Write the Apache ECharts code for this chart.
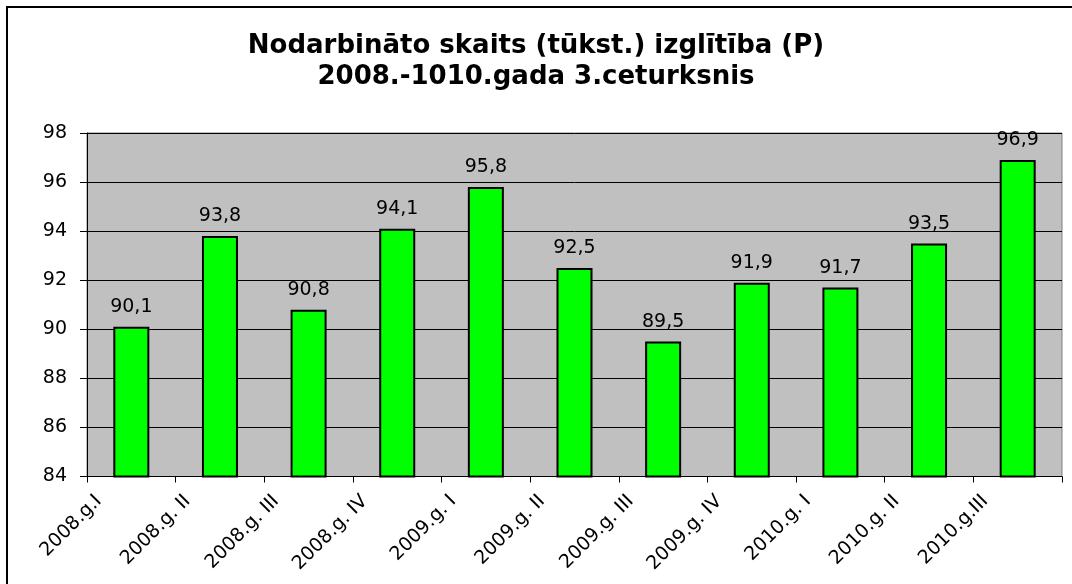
<!DOCTYPE html>
<html>
<head>
<meta charset="utf-8">
<script src="https://cdn.jsdelivr.net/npm/echarts@6/dist/echarts.min.js"></script>
<style>
  html, body { margin: 0; padding: 0; background: #fff; }
  #chart { width: 1072px; height: 584px; }
</style>
</head>
<body>
<div id="chart"></div>
<script>
  const categories = ['2008.g.I', '2008.g. II', '2008.g. III', '2008.g. IV', '2009.g. I', '2009.g. II',
    '2009.g. III', '2009.g. IV', '2010.g. I', '2010.g. II', '2010.g.III']
  const employed = [90.1, 93.8, 90.8, 94.1, 95.8, 92.5, 89.5, 91.9, 91.7, 93.5, 96.9]
  const yTicks = [84, 86, 88, 90, 92, 94, 96, 98]

  const font = 'DejaVu Sans, Verdana, sans-serif'
  const chart = echarts.init(document.getElementById('chart'), null, { renderer: 'canvas' })

  chart.setOption({
    animation: false,
    backgroundColor: '#fff',
    title: {
      text: 'Nodarbināto skaits (tūkst.) izglītība (P)\n2008.-1010.gada 3.ceturksnis',
      left: 'center',
      top: 26,
      textStyle: {
        fontFamily: font,
        fontWeight: 'bold',
        fontSize: 26,
        lineHeight: 31,
        color: '#000'
      }
    },
    graphic: [{
      type: 'rect',
      shape: { x: 7, y: 7, width: 1080, height: 600 },
      style: { fill: 'none', stroke: '#000', lineWidth: 2 },
      silent: true
    }],
    grid: {
      left: 87,
      right: 10,
      top: 133,
      bottom: 106,
      show: true,
      backgroundColor: '#c0c0c0',
      borderColor: '#808080',
      borderWidth: 1
    },
    xAxis: {
      type: 'category',
      data: categories,
      axisLine: { lineStyle: { color: '#000', width: 1 } },
      axisTick: { show: true, length: 6, lineStyle: { color: '#000' } },
      axisLabel: {
        interval: 0,
        rotate: 45,
        margin: 19,
        align: 'right',
        verticalAlign: 'bottom',
        lineHeight: 42,
        padding: [0, 25, 0, 0],
        fontFamily: font,
        fontSize: 19,
        color: '#000'
      }
    },
    yAxis: {
      type: 'value',
      min: yTicks[0],
      max: yTicks[yTicks.length - 1],
      interval: 2,
      axisLine: { show: true, lineStyle: { color: '#000', width: 1 } },
      axisTick: { show: true, length: 7, lineStyle: { color: '#000' } },
      axisLabel: {
        margin: 20,
        fontFamily: font,
        fontSize: 19,
        color: '#000'
      },
      splitLine: { lineStyle: { color: '#000', width: 1 } }
    },
    series: [{
      type: 'bar',
      data: employed,
      barWidth: 36,
      itemStyle: { color: '#00ff00', borderColor: '#000', borderWidth: 2 },
      label: {
        show: true,
        position: 'top',
        distance: 10,
        fontFamily: font,
        fontSize: 19,
        color: '#000',
        formatter: p => String(p.value).replace('.', ',')
      }
    }]
  })
</script>
</body>
</html>
